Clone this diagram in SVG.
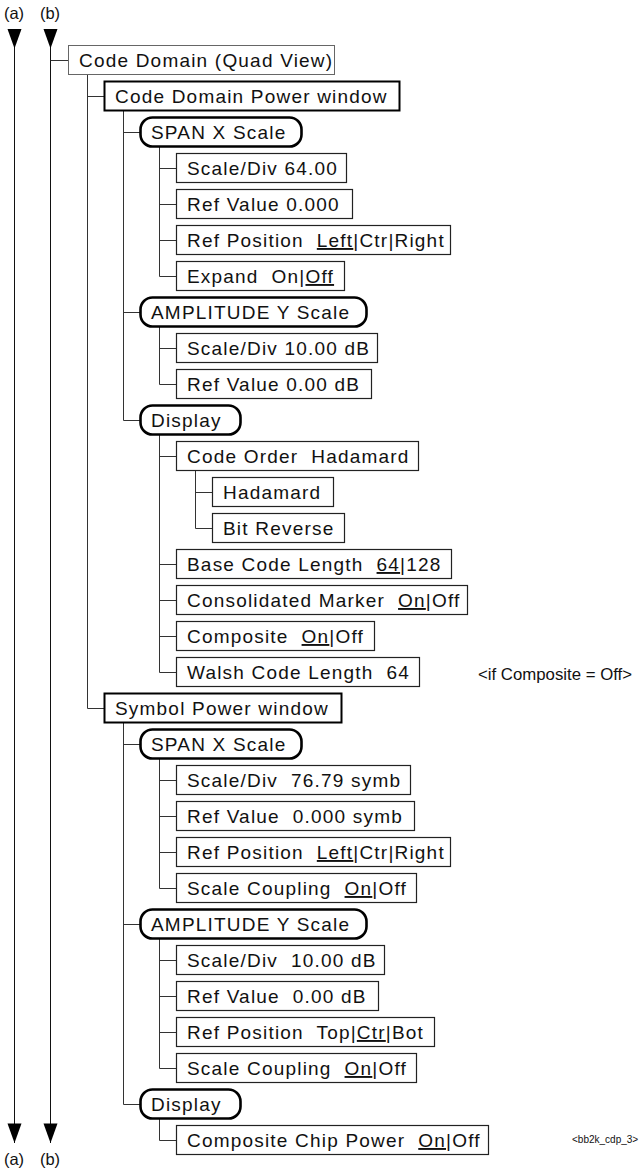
<svg xmlns="http://www.w3.org/2000/svg" width="644" height="1174" viewBox="0 0 644 1174" xml:space="preserve">
<style>
.bx{fill:#fff;stroke:#222;stroke-width:1.2}
.thin{fill:#fff;stroke:#666;stroke-width:1}
.bold{fill:#fff;stroke:#000;stroke-width:2}
.pill{fill:#fff;stroke:#000;stroke-width:2.6}
.t{font-family:"Liberation Sans",Arial,sans-serif;font-size:19px;letter-spacing:1.2px;fill:#111;white-space:pre}
.u{text-decoration:underline}
.lbl{font-family:"Liberation Sans",Arial,sans-serif;font-size:16.5px;fill:#111;text-anchor:middle}
.note{font-family:"Liberation Sans",Arial,sans-serif;font-size:16.8px;fill:#111}
.tag{font-family:"Liberation Sans",Arial,sans-serif;font-size:10px;fill:#111}
.conn{fill:none;stroke:#333;stroke-width:1}
.main{fill:none;stroke:#111;stroke-width:1}
</style>
<defs>
<path id="ah" d="M-7,0 L7,0 L0,19.5 Z" fill="#000"/>
</defs>
<g id="rails">
<text class="lbl" x="14" y="19">(a)</text>
<text class="lbl" x="50" y="19">(b)</text>
<path class="main" d="M14.5 29 V1143 M50.5 29 V1143"/>
<use href="#ah" x="14.5" y="29"/>
<use href="#ah" x="50.5" y="29"/>
<use href="#ah" x="14.5" y="1123.5"/>
<use href="#ah" x="50.5" y="1123.5"/>
<text class="lbl" x="14" y="1165">(a)</text>
<text class="lbl" x="50" y="1165">(b)</text>
</g>
<g id="connectors">
<path class="conn" d="M50.5 60.5 H68.5
M87.5 74.5 V708.5 M87.5 96.5 H104.5 M87.5 708.5 H104.5
M123.5 110.5 V420.5 M123.5 132.5 H140.5 M123.5 312.5 H140.5 M123.5 420.5 H140.5
M159.5 146.5 V276.5 M159.5 168.5 H176.5 M159.5 204.5 H176.5 M159.5 240.5 H176.5 M159.5 276.5 H176.5
M159.5 326.5 V384.5 M159.5 348.5 H176.5 M159.5 384.5 H176.5
M159.5 434.5 V672.5 M159.5 456.5 H176.5 M159.5 564.5 H176.5 M159.5 600.5 H176.5 M159.5 636.5 H176.5 M159.5 672.5 H176.5
M195.5 470.5 V528.5 M195.5 492.5 H212.5 M195.5 528.5 H212.5
M123.5 722.5 V1104.5 M123.5 744.5 H140.5 M123.5 924.5 H140.5 M123.5 1104.5 H140.5
M159.5 758.5 V888.5 M159.5 780.5 H176.5 M159.5 816.5 H176.5 M159.5 852.5 H176.5 M159.5 888.5 H176.5
M159.5 938.5 V1068.5 M159.5 960.5 H176.5 M159.5 996.5 H176.5 M159.5 1032.5 H176.5 M159.5 1068.5 H176.5
M159.5 1118.5 V1140.5 M159.5 1140.5 H176.5"/>
</g>
<g id="n0"><rect class="thin" x="68.5" y="45.5" width="266" height="29"/><text class="t" x="79" y="67">Code Domain (Quad View)</text></g>
<g id="n1"><rect class="bold" x="104.5" y="81.5" width="295" height="29"/><text class="t" x="115" y="103">Code Domain Power window</text></g>
<g id="n2"><rect class="pill" x="140.5" y="117.5" width="161" height="29" rx="12"/><text class="t" x="151" y="139">SPAN X Scale</text></g>
<g id="n3"><rect class="bx" x="176.5" y="153.5" width="170" height="29"/><text class="t" x="187" y="175">Scale/Div 64.00</text></g>
<g id="n4"><rect class="bx" x="176.5" y="189.5" width="176" height="29"/><text class="t" x="187" y="211">Ref Value 0.000</text></g>
<g id="n5"><rect class="bx" x="176.5" y="225.5" width="274" height="29"/><text class="t" x="187" y="247">Ref Position  <tspan class="u">Left</tspan>|Ctr|Right</text></g>
<g id="n6"><rect class="bx" x="176.5" y="261.5" width="168" height="29"/><text class="t" x="187" y="283">Expand  On|<tspan class="u">Off</tspan></text></g>
<g id="n7"><rect class="pill" x="140.5" y="297.5" width="226" height="29" rx="12"/><text class="t" x="151" y="319">AMPLITUDE Y Scale</text></g>
<g id="n8"><rect class="bx" x="176.5" y="333.5" width="201" height="29"/><text class="t" x="187" y="355">Scale/Div 10.00 dB</text></g>
<g id="n9"><rect class="bx" x="176.5" y="369.5" width="195" height="29"/><text class="t" x="187" y="391">Ref Value 0.00 dB</text></g>
<g id="n10"><rect class="pill" x="140.5" y="405.5" width="100" height="29" rx="12"/><text class="t" x="151" y="427">Display</text></g>
<g id="n11"><rect class="bx" x="176.5" y="441.5" width="242" height="29"/><text class="t" x="187" y="463">Code Order  Hadamard</text></g>
<g id="n12"><rect class="bx" x="212.5" y="477.5" width="121" height="29"/><text class="t" x="223" y="499">Hadamard</text></g>
<g id="n13"><rect class="bx" x="212.5" y="513.5" width="132" height="29"/><text class="t" x="223" y="535">Bit Reverse</text></g>
<g id="n14"><rect class="bx" x="176.5" y="549.5" width="275" height="29"/><text class="t" x="187" y="571">Base Code Length  <tspan class="u">64</tspan>|128</text></g>
<g id="n15"><rect class="bx" x="176.5" y="585.5" width="291" height="29"/><text class="t" x="187" y="607">Consolidated Marker  <tspan class="u">On</tspan>|Off</text></g>
<g id="n16"><rect class="bx" x="176.5" y="621.5" width="198" height="29"/><text class="t" x="187" y="643">Composite  <tspan class="u">On</tspan>|Off</text></g>
<g id="n17"><rect class="bx" x="176.5" y="657.5" width="243" height="29"/><text class="t" x="187" y="679">Walsh Code Length  64</text></g>
<g id="note17"><text class="note" x="478" y="680">&lt;if Composite = Off&gt;</text></g>
<g id="n18"><rect class="bold" x="104.5" y="693.5" width="237" height="29"/><text class="t" x="115" y="715">Symbol Power window</text></g>
<g id="n19"><rect class="pill" x="140.5" y="729.5" width="161" height="29" rx="12"/><text class="t" x="151" y="751">SPAN X Scale</text></g>
<g id="n20"><rect class="bx" x="176.5" y="765.5" width="234" height="29"/><text class="t" x="187" y="787">Scale/Div  76.79 symb</text></g>
<g id="n21"><rect class="bx" x="176.5" y="801.5" width="238" height="29"/><text class="t" x="187" y="823">Ref Value  0.000 symb</text></g>
<g id="n22"><rect class="bx" x="176.5" y="837.5" width="274" height="29"/><text class="t" x="187" y="859">Ref Position  <tspan class="u">Left</tspan>|Ctr|Right</text></g>
<g id="n23"><rect class="bx" x="176.5" y="873.5" width="240" height="29"/><text class="t" x="187" y="895">Scale Coupling  <tspan class="u">On</tspan>|Off</text></g>
<g id="n24"><rect class="pill" x="140.5" y="909.5" width="226" height="29" rx="12"/><text class="t" x="151" y="931">AMPLITUDE Y Scale</text></g>
<g id="n25"><rect class="bx" x="176.5" y="945.5" width="208" height="29"/><text class="t" x="187" y="967">Scale/Div  10.00 dB</text></g>
<g id="n26"><rect class="bx" x="176.5" y="981.5" width="202" height="29"/><text class="t" x="187" y="1003">Ref Value  0.00 dB</text></g>
<g id="n27"><rect class="bx" x="176.5" y="1017.5" width="258" height="29"/><text class="t" x="187" y="1039">Ref Position  Top|<tspan class="u">Ctr</tspan>|Bot</text></g>
<g id="n28"><rect class="bx" x="176.5" y="1053.5" width="240" height="29"/><text class="t" x="187" y="1075">Scale Coupling  <tspan class="u">On</tspan>|Off</text></g>
<g id="n29"><rect class="pill" x="140.5" y="1089.5" width="100" height="29" rx="12"/><text class="t" x="151" y="1111">Display</text></g>
<g id="n30"><rect class="bx" x="176.5" y="1125.5" width="312" height="29"/><text class="t" x="187" y="1147">Composite Chip Power  <tspan class="u">On</tspan>|Off</text></g>
<g id="tag"><text class="tag" x="572" y="1143">&lt;bb2k_cdp_3&gt;</text></g>
</svg>
